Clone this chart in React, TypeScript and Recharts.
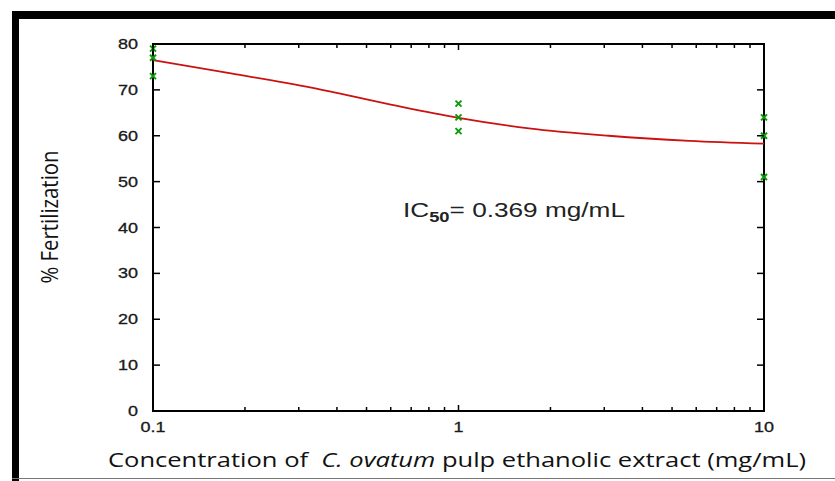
import React from 'react';
import { ComposedChart, XAxis, YAxis, Line, Scatter, ReferenceArea } from 'recharts';

// fitted dose-response curve
const fitConc = [0.1, 0.18, 0.33, 0.6, 1, 1.7, 3.1, 5.7, 10];
const fitFert = [76.5, 73.6, 70.5, 66.8, 63.9, 61.6, 60.0, 58.9, 58.3];

// observed replicates
const obsConc = [0.1, 0.1, 0.1, 1, 1, 1, 10, 10, 10];
const obsFert = [79, 77, 73, 67, 64, 61, 64, 60, 51];

const majorX = [0.1, 1, 10];
const xTicks = [0.1, 0.2, 0.3, 0.4, 0.5, 0.6, 0.7, 0.8, 0.9, 1, 2, 3, 4, 5, 6, 7, 8, 9, 10];
const yTicks = [0, 10, 20, 30, 40, 50, 60, 70, 80];

const fitData = fitConc.map((x, i) => ({ x, y: fitFert[i] }));
const obsData = obsConc.map((x, i) => ({ x, y: obsFert[i] }));

const tickFont = 'Liberation Sans, Arial, sans-serif';

const labelLen = (s: string) => s.replace(/\./g, '').length * 10 + (s.split('.').length - 1) * 5;

const BottomTick = (props: any) => {
  const { x, y, payload } = props;
  const major = majorX.includes(payload.value);
  return (
    <g>
      <line x1={x} x2={x} y1={y} y2={y - (major ? 6 : 4)} stroke="#000" strokeWidth={1.5} />
      {major && (
        <text
          x={x}
          y={y + 21}
          textAnchor="middle"
          fontFamily={tickFont}
          fontSize={14}
          fill="#1a1a1a"
          stroke="#1a1a1a"
          strokeWidth={0.3}
          textLength={labelLen(String(payload.value))}
          lengthAdjust="spacingAndGlyphs"
        >
          {payload.value}
        </text>
      )}
    </g>
  );
};

const TopTick = (props: any) => {
  const { x, y, payload } = props;
  const major = majorX.includes(payload.value);
  return <line x1={x} x2={x} y1={y} y2={y + (major ? 6 : 4)} stroke="#000" strokeWidth={1.5} />;
};

const LeftTick = (props: any) => {
  const { x, y, payload } = props;
  const s = String(payload.value);
  return (
    <g>
      <line x1={x} x2={x + 7} y1={y} y2={y} stroke="#000" strokeWidth={1.5} />
      <text
        x={x - 15}
        y={y + 5}
        textAnchor="end"
        fontFamily={tickFont}
        fontSize={14}
        fill="#1a1a1a"
        stroke="#1a1a1a"
        strokeWidth={0.3}
        textLength={labelLen(s)}
        lengthAdjust="spacingAndGlyphs"
      >
        {s}
      </text>
    </g>
  );
};

const RightTick = (props: any) => {
  const { x, y } = props;
  return <line x1={x} x2={x - 7} y1={y} y2={y} stroke="#000" strokeWidth={1.5} />;
};

const Cross = (props: any) => {
  const { cx, cy } = props;
  const r = 3;
  return (
    <g stroke="#0a9a0a" strokeWidth={2}>
      <line x1={cx - r} y1={cy - r} x2={cx + r} y2={cy + r} />
      <line x1={cx - r} y1={cy + r} x2={cx + r} y2={cy - r} />
    </g>
  );
};

// plot frame drawn from the reference area's own scaled rectangle
const Frame = (props: any) => {
  const { x, y, width, height } = props;
  return <rect x={x} y={y} width={width} height={height} fill="none" stroke="#000" strokeWidth={2} />;
};

export default function App() {
  return (
    <div style={{ position: 'absolute', left: 0, top: 0, width: 835, height: 481, background: '#fff', overflow: 'hidden' }}>
      <div style={{ position: 'absolute', left: 12, top: 11, width: 823, height: 8, background: '#000' }} />
      <div style={{ position: 'absolute', left: 12, top: 11, width: 7, height: 470, background: '#000' }} />
      <div style={{ position: 'absolute', left: 12, top: 478, width: 823, height: 1, background: '#777' }} />

      <ComposedChart
        width={835}
        height={481}
        margin={{ top: 39, right: 61, bottom: 40, left: 113 }}
        style={{ position: 'absolute', left: 0, top: 0 }}
      >
        <XAxis
          dataKey="x"
          type="number"
          scale="log"
          domain={[0.1, 10]}
          ticks={xTicks}
          interval={0}
          tick={<BottomTick />}
          tickLine={false}
          tickSize={0}
          tickMargin={0}
          height={30}
          axisLine={false}
        />
        <XAxis
          xAxisId="top"
          orientation="top"
          dataKey="x"
          type="number"
          scale="log"
          domain={[0.1, 10]}
          allowDataOverflow
          ticks={xTicks}
          interval={0}
          tick={<TopTick />}
          tickLine={false}
          tickSize={0}
          tickMargin={0}
          height={5}
          axisLine={false}
        />
        <YAxis
          type="number"
          domain={[0, 80]}
          ticks={yTicks}
          interval={0}
          tick={<LeftTick />}
          tickLine={false}
          tickSize={0}
          tickMargin={0}
          width={40}
          axisLine={false}
        />
        <YAxis
          yAxisId="right"
          orientation="right"
          type="number"
          domain={[0, 80]}
          allowDataOverflow
          ticks={yTicks}
          interval={0}
          tick={<RightTick />}
          tickLine={false}
          tickSize={0}
          tickMargin={0}
          width={10}
          axisLine={false}
        />
        <ReferenceArea x1={0.1} x2={10} y1={0} y2={80} ifOverflow="visible" shape={<Frame />} />
        <Line
          data={fitData}
          dataKey="y"
          type="monotone"
          stroke="#cc1111"
          strokeWidth={1.8}
          dot={false}
          activeDot={false}
          isAnimationActive={false}
        />
        <Scatter data={obsData} dataKey="y" shape={<Cross />} isAnimationActive={false} />
      </ComposedChart>

      <svg width={835} height={481} style={{ position: 'absolute', left: 0, top: 0, pointerEvents: 'none' }}>
        <text
          x={58}
          y={217}
          transform="rotate(-90 58 217)"
          textAnchor="middle"
          fontFamily="Open Sans, sans-serif"
          fontSize={23}
          fill="#111"
          textLength={133}
          lengthAdjust="spacingAndGlyphs"
        >
          % Fertilization
        </text>
        <text
          x={108}
          y={467}
          fontFamily="Open Sans, sans-serif"
          fontSize={20.5}
          fill="#111"
          textLength={698}
          lengthAdjust="spacingAndGlyphs"
          style={{ whiteSpace: 'pre' }}
        >
          {'Concentration of  '}
          <tspan fontStyle="italic">C. ovatum</tspan>
          {' pulp ethanolic extract (mg/mL)'}
        </text>
        <text
          x={403}
          y={217}
          fontFamily={tickFont}
          fontSize={20}
          fill="#222"
          textLength={222}
          lengthAdjust="spacingAndGlyphs"
        >
          IC
          <tspan fontSize={14} fontWeight="bold" dy={5}>50</tspan>
          <tspan dy={-5}>= 0.369 mg/mL</tspan>
        </text>
      </svg>
    </div>
  );
}
